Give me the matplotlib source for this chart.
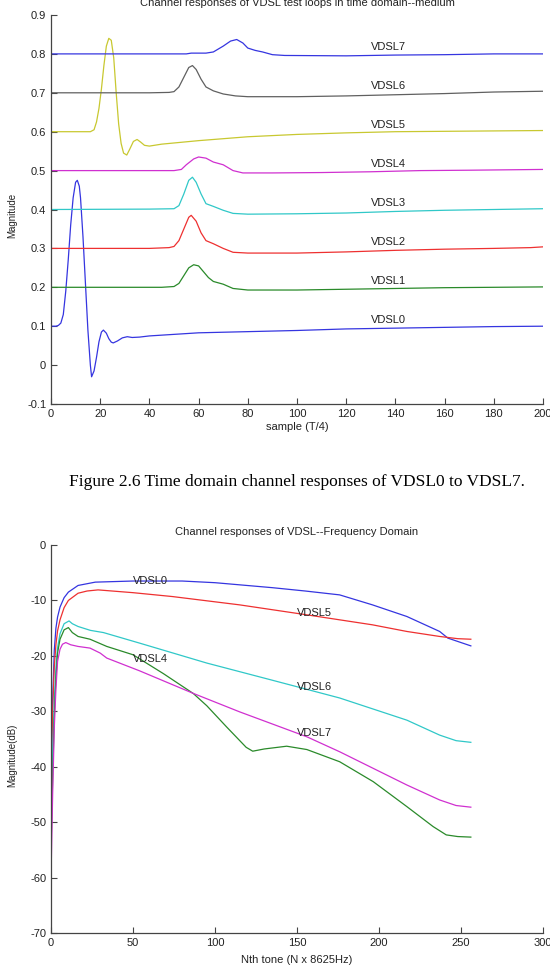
import matplotlib
matplotlib.use("Agg")
import matplotlib.pyplot as plt

plt.rcParams['font.family'] = ['Liberation Sans', 'DejaVu Sans']
plt.rcParams['axes.unicode_minus'] = False

# ---------------- time-domain data ----------------
td_labels = ["VDSL0", "VDSL1", "VDSL2", "VDSL3", "VDSL4", "VDSL5", "VDSL6", "VDSL7"]
td_base = [0.1, 0.2, 0.3, 0.4, 0.5, 0.6, 0.7, 0.8]

vdsl0_s = [0, 2, 3, 4, 5, 6, 7, 8, 9, 10, 10.7, 11.5, 12, 13, 14, 15, 16, 16.5, 17.5, 18.5, 19.5,
           20.5, 21.3, 22.5, 23.5, 24.5, 25.3, 27, 29, 31, 33, 36, 40, 50, 60, 80, 100, 120, 140,
           160, 180, 200]
vdsl0_v = [0.1, 0.1, 0.102, 0.108, 0.13, 0.19, 0.27, 0.36, 0.43, 0.47, 0.475, 0.46, 0.43, 0.33,
           0.21, 0.09, 0.0, -0.03, -0.015, 0.02, 0.06, 0.085, 0.09, 0.082, 0.068, 0.059, 0.057,
           0.062, 0.07, 0.073, 0.071, 0.072, 0.075, 0.079, 0.083, 0.086, 0.089, 0.093, 0.095,
           0.097, 0.099, 0.1]

vdsl1_s = [0, 45, 50, 52, 54, 56, 58, 60, 62, 64, 66, 70, 74, 80, 100, 120, 140, 160, 180, 200]
vdsl1_v = [0.2, 0.2, 0.202, 0.21, 0.23, 0.25, 0.258, 0.255, 0.24, 0.225, 0.215, 0.208, 0.197,
           0.193, 0.193, 0.195, 0.197, 0.199, 0.2, 0.201]

vdsl2_s = [0, 40, 48, 50, 52, 54, 56, 57, 59, 61, 63, 66, 70, 74, 80, 100, 120, 140, 160, 180,
           195, 200]
vdsl2_v = [0.3, 0.3, 0.302, 0.305, 0.32, 0.35, 0.38, 0.385, 0.37, 0.34, 0.32, 0.312, 0.3, 0.29,
           0.288, 0.288, 0.291, 0.295, 0.298, 0.3, 0.302, 0.304]

vdsl3_s = [0, 40, 50, 52, 54, 56, 57.5, 59, 61, 63, 66, 70, 74, 80, 100, 120, 140, 160, 180, 200]
vdsl3_v = [0.4, 0.401, 0.402, 0.41, 0.44, 0.475, 0.483, 0.47, 0.44, 0.415, 0.408, 0.398, 0.39,
           0.388, 0.389, 0.391, 0.395, 0.398, 0.4, 0.402]

vdsl4_s = [0, 50, 53, 55, 58, 60, 63, 66, 70, 74, 78, 90, 110, 130, 150, 170, 200]
vdsl4_v = [0.5, 0.5, 0.503, 0.515, 0.53, 0.535, 0.532, 0.522, 0.515, 0.5, 0.494, 0.494, 0.495,
           0.497, 0.5, 0.501, 0.503]

vdsl5_s = [0, 16, 17.5, 18.5, 19.5, 20.5, 21.5, 22.5, 23.5, 24.5, 25.5, 26.5, 27.5, 28.5, 29.5,
           30.8, 32, 33.5, 35, 36.5, 38, 40, 45, 50, 60, 80, 100, 120, 140, 160, 180, 200]
vdsl5_v = [0.6, 0.6, 0.605, 0.625, 0.66, 0.71, 0.77, 0.82, 0.84, 0.835, 0.79, 0.7, 0.62, 0.57,
           0.545, 0.54, 0.555, 0.575, 0.58, 0.573, 0.565, 0.563, 0.568, 0.571, 0.577, 0.587,
           0.593, 0.597, 0.6, 0.601, 0.602, 0.603]

vdsl6_s = [0, 40, 48, 50, 52, 54, 56, 57.5, 59, 61, 63, 66, 70, 75, 80, 100, 120, 140, 160, 180, 200]
vdsl6_v = [0.7, 0.7, 0.701, 0.703, 0.715, 0.74, 0.765, 0.77, 0.76, 0.735, 0.715, 0.705, 0.697,
           0.692, 0.69, 0.69, 0.692, 0.695, 0.698, 0.702, 0.704]

vdsl7_s = [0, 55, 57, 63, 66, 70, 73, 75.5, 78, 80, 83, 86, 90, 95, 120, 140, 160, 180, 200]
vdsl7_v = [0.8, 0.8, 0.802, 0.802, 0.805, 0.82, 0.833, 0.837, 0.828, 0.815, 0.809, 0.805, 0.798,
           0.796, 0.795, 0.797, 0.798, 0.8, 0.8]

td_colors = ["#3535e0", "#2a8a2a", "#ee3030", "#30c8c8", "#d030d0", "#c8c830", "#606060", "#3535e0"]

td_xticks = [0, 20, 40, 60, 80, 100, 120, 140, 160, 180, 200]
td_yticks = [-0.1, 0, 0.1, 0.2, 0.3, 0.4, 0.5, 0.6, 0.7, 0.8, 0.9]
td_ytick_labels = ["-0.1", "0", "0.1", "0.2", "0.3", "0.4", "0.5", "0.6", "0.7", "0.8", "0.9"]

# ---------------- frequency-domain data ----------------
fd_labels = ["VDSL0", "VDSL5", "VDSL6", "VDSL4", "VDSL7"]
fd_label_x = [50, 150, 150, 50, 150]
fd_label_y = [-6.5, -12.2, -25.7, -20.6, -34.0]

f0_t = [0, 1, 2, 3, 4, 5.5, 8, 10.6, 16.5, 27, 50, 80, 100, 135, 155, 176, 196, 217, 237, 242,
        250, 256]
f0_v = [-45, -28, -19, -15, -13, -11.2, -9.5, -8.5, -7.3, -6.7, -6.5, -6.5, -6.8, -7.7, -8.3,
        -9.0, -10.8, -12.9, -15.6, -16.8, -17.6, -18.2]

f5_t = [0, 1, 2, 3, 4, 5.5, 8, 10.6, 16.5, 22, 28.7, 50, 74, 115, 156, 196, 217, 237, 248, 256]
f5_v = [-42, -30, -22, -18, -15.5, -13.5, -11.3, -10, -8.7, -8.3, -8.1, -8.6, -9.3, -10.8, -12.6,
        -14.4, -15.6, -16.5, -16.9, -17.0]

f6_t = [0, 1, 2, 3, 4, 5.5, 8, 11, 13, 16.5, 24, 32, 54, 95, 135, 176, 217, 237, 247, 256]
f6_v = [-50, -38, -28, -22, -18.5, -16, -14.2, -13.7, -14.2, -14.7, -15.4, -15.8, -17.7, -21.3,
        -24.4, -27.6, -31.6, -34.3, -35.3, -35.6]

f4_t = [0, 1, 2, 3, 4, 5.5, 8, 10.6, 13, 16.5, 23.8, 34, 50, 68.5, 86.8, 95, 107, 119, 123, 130,
        143.7, 156, 176, 196.5, 217, 233, 241, 248, 256]
f4_v = [-55, -42, -31, -24, -19.5, -17, -15.3, -14.9, -15.8, -16.5, -17.0, -18.3, -19.8, -23.2,
        -26.8, -29.0, -32.8, -36.5, -37.2, -36.8, -36.3, -36.9, -39.1, -42.7, -47.2, -50.8, -52.3,
        -52.6, -52.7]

f7_t = [0, 1, 2, 3, 4, 5.5, 7, 9, 12, 16.5, 23.8, 30, 34, 54, 87, 115, 156, 176, 196.5, 217, 237,
        247, 256]
f7_v = [-60, -45, -33, -26, -21, -18.8, -17.9, -17.6, -18.0, -18.3, -18.6, -19.5, -20.4, -22.7,
        -26.8, -30.1, -34.6, -37.3, -40.3, -43.3, -46.0, -47.0, -47.3]

fd_colors = ["#3535e0", "#ee3030", "#30c8c8", "#2a8a2a", "#d030d0"]

fd_xticks = [0, 50, 100, 150, 200, 250, 300]
fd_yticks = [-70, -60, -50, -40, -30, -20, -10, 0]

# ---------------- figure ----------------
W, H = 550, 969
fig = plt.figure(figsize=(W / 100, H / 100), dpi=100)
fig.patch.set_facecolor("white")

def style_axes(ax):
    for s in ["top", "right"]:
        ax.spines[s].set_visible(False)
    for s in ["left", "bottom"]:
        ax.spines[s].set_color("#444444")
        ax.spines[s].set_linewidth(0.9)
    ax.tick_params(direction="in", length=4, width=0.8, colors="#444444",
                   labelcolor="#222222", labelsize=8)

# top axes
ax1 = fig.add_axes([51 / W, 1 - 404 / H, 492 / W, 389 / H])
td_s = [vdsl0_s, vdsl1_s, vdsl2_s, vdsl3_s, vdsl4_s, vdsl5_s, vdsl6_s, vdsl7_s]
td_v = [vdsl0_v, vdsl1_v, vdsl2_v, vdsl3_v, vdsl4_v, vdsl5_v, vdsl6_v, vdsl7_v]
for s, v, c in zip(td_s, td_v, td_colors):
    ax1.plot(s, v, color=c, lw=0.9)
for lab, b in zip(td_labels, td_base):
    ax1.text(130, b + 0.017, lab, fontsize=8, color="#222222", ha="left", va="center")
ax1.set_xlim(0, 200)
ax1.set_ylim(-0.1, 0.9)
ax1.set_xticks(td_xticks)
ax1.set_yticks(td_yticks)
ax1.set_yticklabels(td_ytick_labels)
style_axes(ax1)

fig.text(297 / W, 1 - 3 / H, "Channel responses of VDSL test loops in time domain--medium",
         ha="center", va="center", fontsize=8, color="#222222")
fig.text(297 / W, 1 - 427 / H, "sample (T/4)", ha="center", va="center", fontsize=8,
         color="#222222")
fig.text(12 / W, 1 - 215 / H, "Magnitude", rotation=90, ha="center", va="center",
         fontsize=7, color="#222222")

fig.text(297 / W, 1 - 482 / H, "Figure 2.6 Time domain channel responses of VDSL0 to VDSL7.",
         ha="center", va="center", fontsize=12.5, color="black",
         family=["Liberation Serif", "DejaVu Serif"])

# bottom axes
ax2 = fig.add_axes([51 / W, 1 - 933 / H, 492 / W, 388 / H])
fd_t = [f0_t, f5_t, f6_t, f4_t, f7_t]
fd_v = [f0_v, f5_v, f6_v, f4_v, f7_v]
for t, v, c in zip(fd_t, fd_v, fd_colors):
    ax2.plot(t, v, color=c, lw=0.9)
for lab, x, y in zip(fd_labels, fd_label_x, fd_label_y):
    ax2.text(x, y, lab, fontsize=8, color="#222222", ha="left", va="center")
ax2.set_xlim(0, 300)
ax2.set_ylim(-70, 0)
ax2.set_xticks(fd_xticks)
ax2.set_yticks(fd_yticks)
style_axes(ax2)

fig.text(297 / W, 1 - 532 / H, "Channel responses of VDSL--Frequency Domain",
         ha="center", va="center", fontsize=8, color="#222222")
fig.text(297 / W, 1 - 960 / H, "Nth tone (N x 8625Hz)", ha="center", va="center", fontsize=8,
         color="#222222")
fig.text(12 / W, 1 - 755 / H, "Magnitude(dB)", rotation=90, ha="center", va="center",
         fontsize=7, color="#222222")

fig.savefig("out.png", dpi=100, facecolor="white")
